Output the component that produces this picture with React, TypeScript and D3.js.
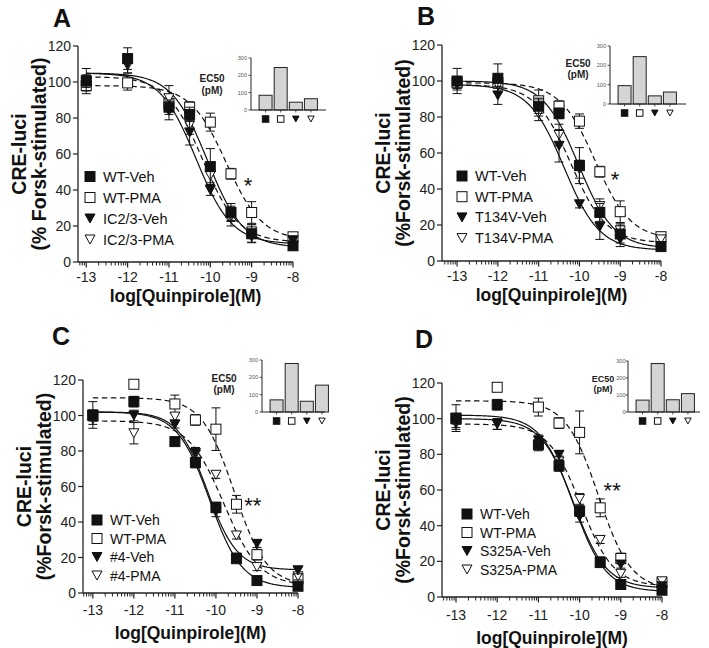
import React, { useEffect, useRef } from 'react';
import * as d3 from 'd3';

const FONT = 'Liberation Sans, Arial, Helvetica, sans-serif';

// shared x values (log molar quinpirole) and ticks
const doses = [-13, -12, -11, -10.5, -10, -9.5, -9, -8];
const xTicks = [-13, -12, -11, -10, -9, -8];
const yTicks = [0, 20, 40, 60, 80, 100, 120];
const insetTicks = [0, 100, 200, 300];
const markerTypes = ['filledSquare', 'openSquare', 'filledTri', 'openTri'];

// ---- panel A ----
const aNames = ['WT-Veh', 'WT-PMA', 'IC2/3-Veh', 'IC2/3-PMA'];
const aValues = [
  [100.5, 113, 86, 82, 53, 27.5, 15.7, 9],
  [98, 99.5, 88, 86, 77.7, 49, 27.5, 14],
  [101, 110, 84, 72, 40, 27, 14, 12],
  [100, 109, 91, 76, 48, 25, 17, 12],
];
const aErr = [
  [7, 6, 4, 4, 10, 5, 5, 2],
  [3, 4, 3, 3, 5, 3, 6, 2],
  [3, 5, 5, 7, 3, 4, 3, 2],
  [3, 4, 7, 5, 4, 5, 4, 2],
];
const aEc50 = [85, 245, 45, 65];
const aTop = [105, 98, 105, 103];
const aBottom = [8, 12, 10, 11];
const aHill = [1, 1, 1, 1];

// ---- panel B ----
const bNames = ['WT-Veh', 'WT-PMA', 'T134V-Veh', 'T134V-PMA'];
const bValues = [
  [100, 101.5, 86, 82, 53, 27, 15, 8],
  [99, 99, 89, 86, 77.7, 49.6, 27.4, 13.5],
  [99, 92, 85.5, 64, 31.5, 19, 12, 8],
  [98, 97.6, 82, 70, 51, 30.5, 17, 12],
];
const bErr = [
  [7, 8, 4, 3, 10, 5, 5, 2],
  [3, 3, 6, 3, 4, 3, 6, 2],
  [3, 5, 5, 9, 2, 7, 4, 2],
  [3, 4, 4, 6, 5, 4, 4, 2],
];
const bEc50 = [95, 245, 42, 62];
const bTop = [100, 99, 98, 98];
const bBottom = [7, 12, 6, 10];
const bHill = [1, 1, 1, 1];

// ---- panel C ----
const wtVehCD = [100.3, 107.8, 85.3, 73.5, 48.2, 19.3, 7, 3.8];
const wtVehCDErr = [7.5, 3, 2, 3, 3, 2, 1.5, 1.5];
const wtPmaCD = [100, 117.6, 106.5, 97.5, 92.3, 50, 21.6, 8];
const wtPmaCDErr = [3, 2, 5, 3, 12, 5, 3, 2];
const cNames = ['WT-Veh', 'WT-PMA', '#4-Veh', '#4-PMA'];
const cValues = [
  wtVehCD,
  wtPmaCD,
  [100, 100, 95, 79, 46, 20, 27.7, 12.8],
  [98, 90, 99.4, 78, 66.6, 32.4, 14.6, 9.4],
];
const cErr = [wtVehCDErr, wtPmaCDErr, [3, 3, 2, 3, 3, 2, 2, 2], [3, 6, 2, 3, 2, 2, 2, 2]];
const cEc50 = [70, 280, 62, 155];
const cTop = [102, 110, 102, 97];
const cBottom = [3, 4, 13, 4];
const cHill = [1.1, 1.1, 1.2, 1];

// ---- panel D ----
const dNames = ['WT-Veh', 'WT-PMA', 'S325A-Veh', 'S325A-PMA'];
const dValues = [
  wtVehCD,
  wtPmaCD,
  [98, 97, 87.8, 79.7, 45, 20, 18.2, 6],
  [97, 97, 85, 76, 55, 32, 13, 8.8],
];
const dErr = [wtVehCDErr, wtPmaCDErr, [3, 3, 3, 2.5, 3, 2, 2, 2], [3, 3, 3, 3, 3, 2, 2, 2]];
const dEc50 = [70, 285, 72, 108];
const dTop = [102, 110, 100, 97];
const dBottom = [3, 4, 5, 6];
const dHill = [1.1, 1.1, 1.1, 1.1];

// significance marks (data coordinates)
const stars = [
  { text: '*', x: -9.09, y: 45 },
  { text: '*', x: -9.13, y: 48 },
  { text: '**', x: -9.1, y: 52 },
  { text: '**', x: -9.21, y: 62 },
];

interface Series {
  name: string;
  marker: string;
  values: number[];
  err: number[];
  top: number;
  bottom: number;
  hill: number;
  ec50: number;
}

const makeSeries = (
  names: string[], values: number[][], errs: number[][], tops: number[],
  bottoms: number[], hills: number[], ec50s: number[],
): Series[] =>
  names.map((name, i) => ({
    name, marker: markerTypes[i], values: values[i], err: errs[i],
    top: tops[i], bottom: bottoms[i], hill: hills[i], ec50: ec50s[i],
  }));

const panelSeries = [
  makeSeries(aNames, aValues, aErr, aTop, aBottom, aHill, aEc50),
  makeSeries(bNames, bValues, bErr, bTop, bBottom, bHill, bEc50),
  makeSeries(cNames, cValues, cErr, cTop, cBottom, cHill, cEc50),
  makeSeries(dNames, dValues, dErr, dTop, dBottom, dHill, dEc50),
];

// layout of each panel (pixels)
const layouts = [
  { letter: 'A', letterX: 62, letterY: 27, ax0: 78, ax1: 293, xMin: -13.2, yb: 262, yt: 46, tickDy: 15, titleDy: 34,
    legX: 90, legY: 176.5, legDy: 21, legFs: 14.5, insX: 251, insY0: 110, insY1: 58, insEnd: 326,
    ecX: 212, ecY: 82, ecDy: 11.5, ecFs: 10, insTickGap: 4 },
  { letter: 'B', letterX: 426, letterY: 25, ax0: 442, ax1: 661, xMin: -13.37, yb: 261, yt: 45, tickDy: 15, titleDy: 34,
    legX: 462, legY: 176, legDy: 20.7, legFs: 14.5, insX: 610, insY0: 104, insY1: 46, insEnd: 686,
    ecX: 578, ecY: 67, ecDy: 11, ecFs: 10, insTickGap: 4 },
  { letter: 'C', letterX: 61, letterY: 345, ax0: 83, ax1: 298, xMin: -13.24, yb: 593, yt: 380, tickDy: 17, titleDy: 40,
    legX: 97, legY: 520, legDy: 18.5, legFs: 14, insX: 262, insY0: 412, insY1: 360, insEnd: 325,
    ecX: 224, ecY: 382, ecDy: 11, ecFs: 10, insTickGap: 4 },
  { letter: 'D', letterX: 424, letterY: 348, ax0: 442, ax1: 662, xMin: -13.34, yb: 597, yt: 383, tickDy: 18, titleDy: 41,
    legX: 467, legY: 514, legDy: 18.5, legFs: 14, insX: 628, insY0: 412, insY1: 361, insEnd: 700,
    ecX: 603, ecY: 382, ecDy: 10, ecFs: 9, insTickGap: 2.5 },
];

type Sel = d3.Selection<SVGGElement, unknown, null, undefined>;

function drawMarker(g: Sel, type: string, x: number, y: number, s: number) {
  const filled = type.startsWith('filled');
  const fill = filled ? '#111' : '#fff';
  if (type.endsWith('Square')) {
    g.append('rect')
      .attr('x', x - s / 2)
      .attr('y', y - s / 2)
      .attr('width', s)
      .attr('height', s)
      .attr('fill', fill)
      .attr('stroke', '#111')
      .attr('stroke-width', 1);
  } else {
    const h = s * 0.9;
    g.append('path')
      .attr('d', `M${x - s / 2},${y - h / 2}L${x + s / 2},${y - h / 2}L${x},${y + h / 2}Z`)
      .attr('fill', fill)
      .attr('stroke', '#111')
      .attr('stroke-width', 1);
  }
}

function drawPanel(root: Sel, L: typeof layouts[number], series: Series[], star: { text: string; x: number; y: number }) {
  const g = root.append('g');
  const x = d3.scaleLinear().domain([L.xMin, -8]).range([L.ax0, L.ax1]);
  const y = d3.scaleLinear().domain([0, 120]).range([L.yb, L.yt]);

  // panel letter
  g.append('text')
    .attr('x', L.letterX)
    .attr('y', L.letterY)
    .attr('text-anchor', 'middle')
    .attr('font-size', '25px')
    .attr('font-weight', 'bold')
    .attr('fill', '#111')
    .text(L.letter);

  // axes
  g.append('line')
    .attr('x1', L.ax0).attr('x2', L.ax0)
    .attr('y1', L.yb).attr('y2', L.yt)
    .attr('stroke', '#222').attr('stroke-width', 1.3);
  g.append('line')
    .attr('x1', L.ax0).attr('x2', L.ax1)
    .attr('y1', L.yb).attr('y2', L.yb)
    .attr('stroke', '#222').attr('stroke-width', 1.3);

  yTicks.forEach((t) => {
    g.append('line')
      .attr('x1', L.ax0 - 5).attr('x2', L.ax0)
      .attr('y1', y(t)).attr('y2', y(t))
      .attr('stroke', '#222').attr('stroke-width', 1.2);
    g.append('text')
      .attr('x', L.ax0 - 7)
      .attr('y', y(t) + 5)
      .attr('text-anchor', 'end')
      .attr('font-size', '14px')
      .attr('fill', '#222')
      .text(t);
  });

  // minor log ticks
  d3.range(-14, -8).forEach((dec) => {
    d3.range(2, 10).forEach((k) => {
      const v = dec + Math.log10(k);
      if (v < L.xMin || v > -8) return;
      g.append('line')
        .attr('x1', x(v)).attr('x2', x(v))
        .attr('y1', L.yb).attr('y2', L.yb + 3.5)
        .attr('stroke', '#222').attr('stroke-width', 1);
    });
  });
  xTicks.forEach((t) => {
    g.append('line')
      .attr('x1', x(t)).attr('x2', x(t))
      .attr('y1', L.yb).attr('y2', L.yb + 5.5)
      .attr('stroke', '#222').attr('stroke-width', 1.2);
    g.append('text')
      .attr('x', x(t))
      .attr('y', L.yb + L.tickDy + 5)
      .attr('text-anchor', 'middle')
      .attr('font-size', '14px')
      .attr('fill', '#222')
      .text(t);
  });

  // axis titles
  g.append('text')
    .attr('x', (L.ax0 + L.ax1) / 2)
    .attr('y', L.yb + L.titleDy + 6)
    .attr('text-anchor', 'middle')
    .attr('font-size', '17.5px')
    .attr('font-weight', 'bold')
    .attr('fill', '#111')
    .text('log[Quinpirole](M)');
  const yc = (L.yb + L.yt) / 2;
  const yTitle2 = L.letter === 'A' ? '(% Forsk-stimulated)' : '(%Forsk-stimulated)';
  [['CRE-luci', -59], [yTitle2, -39]].forEach(([txt, dx]) => {
    g.append('text')
      .attr('transform', `translate(${L.ax0 + (dx as number)},${yc}) rotate(-90)`)
      .attr('text-anchor', 'middle')
      .attr('dominant-baseline', 'central')
      .attr('font-size', '19.5px')
      .attr('font-weight', 'bold')
      .attr('fill', '#111')
      .text(txt as string);
  });

  // fitted curves
  const line = d3.line<number[]>()
    .x((d) => x(d[0]))
    .y((d) => y(d[1]));
  const xs = d3.range(-13, -8, 0.02).concat([-8]);
  series.forEach((s, i) => {
    const logEc = Math.log10(s.ec50 * 1e-12);
    const pts = xs.map((v) => [v, s.bottom + (s.top - s.bottom) / (1 + Math.pow(10, (v - logEc) * s.hill))]);
    g.append('path')
      .attr('d', line(pts)!)
      .attr('fill', 'none')
      .attr('stroke', '#111')
      .attr('stroke-width', 1.2)
      .attr('stroke-dasharray', i % 2 === 1 ? '5.5,3.5' : null);
  });

  // points with error bars
  [1, 3, 2, 0].forEach((i) => {
    const s = series[i];
    s.values.forEach((v, j) => {
      const px = x(doses[j]);
      const e = s.err[j];
      g.append('line')
        .attr('x1', px).attr('x2', px)
        .attr('y1', y(v - e)).attr('y2', y(v + e))
        .attr('stroke', '#111').attr('stroke-width', 1);
      [v - e, v + e].forEach((ev) => {
        g.append('line')
          .attr('x1', px - 4.5).attr('x2', px + 4.5)
          .attr('y1', y(ev)).attr('y2', y(ev))
          .attr('stroke', '#111').attr('stroke-width', 1);
      });
      drawMarker(g, s.marker, px, y(v), 10);
    });
  });

  // significance
  g.append('text')
    .attr('x', x(star.x))
    .attr('y', y(star.y) + 12)
    .attr('text-anchor', 'middle')
    .attr('font-size', '22px')
    .attr('fill', '#111')
    .text(star.text);

  // legend
  series.forEach((s, i) => {
    const ly = L.legY + i * L.legDy;
    drawMarker(g, s.marker, L.legX, ly, 10);
    g.append('text')
      .attr('x', L.legX + 13)
      .attr('y', ly + 5)
      .attr('font-size', `${L.legFs}px`)
      .attr('fill', '#111')
      .text(s.name);
  });

  // EC50 inset
  const iy = d3.scaleLinear().domain([0, 300]).range([L.insY0, L.insY1]);
  const ib = d3.scaleBand<string>()
    .domain(series.map((s) => s.name))
    .range([L.insX + 5.5, L.insX + 69])
    .paddingInner(0.14)
    .paddingOuter(0.17);
  const ig = g.append('g');
  series.forEach((s) => {
    ig.append('rect')
      .attr('x', ib(s.name)!)
      .attr('y', iy(s.ec50))
      .attr('width', ib.bandwidth())
      .attr('height', iy(0) - iy(s.ec50))
      .attr('fill', '#d4d4d4')
      .attr('stroke', '#222')
      .attr('stroke-width', 1);
    const cx = ib(s.name)! + ib.bandwidth() / 2;
    ig.append('line')
      .attr('x1', cx).attr('x2', cx)
      .attr('y1', L.insY0).attr('y2', L.insY0 + 2.5)
      .attr('stroke', '#222').attr('stroke-width', 0.8);
    drawMarker(ig, s.marker, cx, L.insY0 + 9, 6.5);
  });
  ig.append('line')
    .attr('x1', L.insX).attr('x2', L.insX)
    .attr('y1', L.insY0).attr('y2', L.insY1)
    .attr('stroke', '#222').attr('stroke-width', 1);
  ig.append('line')
    .attr('x1', L.insX).attr('x2', L.insEnd)
    .attr('y1', L.insY0).attr('y2', L.insY0)
    .attr('stroke', '#222').attr('stroke-width', 1);
  insetTicks.forEach((t) => {
    ig.append('line')
      .attr('x1', L.insX - 2.5).attr('x2', L.insX)
      .attr('y1', iy(t)).attr('y2', iy(t))
      .attr('stroke', '#222').attr('stroke-width', 0.8);
    ig.append('text')
      .attr('x', L.insX - L.insTickGap)
      .attr('y', iy(t) + 2)
      .attr('text-anchor', 'end')
      .attr('font-size', '5.5px')
      .attr('fill', '#555')
      .text(t);
  });
  ['EC50', '(pM)'].forEach((txt, k) => {
    ig.append('text')
      .attr('x', L.ecX)
      .attr('y', L.ecY + k * L.ecDy)
      .attr('text-anchor', 'middle')
      .attr('font-size', `${L.ecFs}px`)
      .attr('font-weight', 'bold')
      .attr('fill', '#222')
      .text(txt);
  });
}

const App: React.FC = () => {
  const svgRef = useRef<SVGSVGElement>(null);

  useEffect(() => {
    if (!svgRef.current) return;
    const svg = d3.select(svgRef.current);
    svg.selectAll('*').remove();
    svg.append('rect').attr('width', 709).attr('height', 648).attr('fill', '#fff');
    const root = svg.append('g').attr('font-family', FONT) as unknown as Sel;
    layouts.forEach((L, i) => drawPanel(root, L, panelSeries[i], stars[i]));
  }, []);

  return (
    <svg
      ref={svgRef}
      width={709}
      height={648}
      style={{ position: 'absolute', left: 0, top: 0, display: 'block' }}
    />
  );
};

export default App;
